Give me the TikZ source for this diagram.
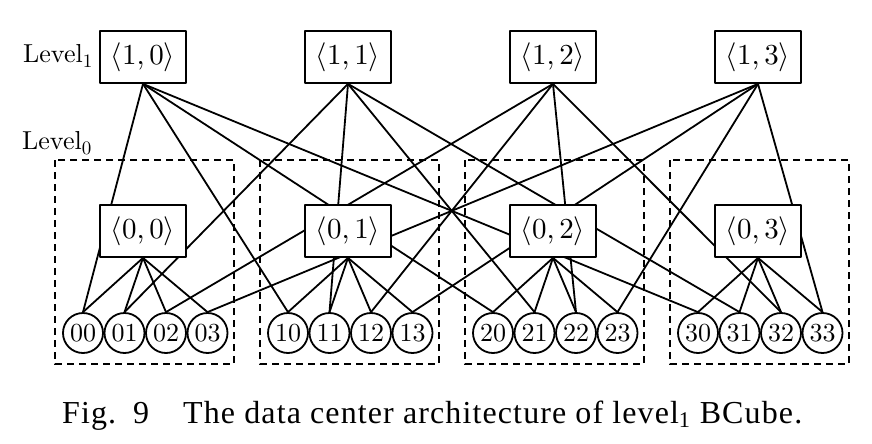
\RequirePackage{fix-cm}
\documentclass[tikz,border=0pt]{standalone}
\usepackage{fontspec}
\setmainfont{lmroman10-regular.otf}
\newfontfamily\capfont{Liberation Serif}[LetterSpace=3.5]
\newcommand{\lsub}[1]{\raisebox{-5pt}{\fontsize{19}{20}\selectfont #1}}
\usetikzlibrary{backgrounds}
\begin{document}
\begin{tikzpicture}[x=1pt, y=-1pt, line join=round, line cap=round]
	\tikzset{sw/.style={draw, line width=1.8pt, fill=white, minimum width=86pt, minimum height=52pt, inner sep=0pt, font=\fontsize{29}{31}\selectfont},
		srv/.style={draw, circle, line width=1.8pt, fill=white, minimum size=40pt, inner sep=0pt, font=\fontsize{26}{28}\selectfont},
		grp/.style={line width=1.8pt, dash pattern=on 7pt off 5pt, line cap=butt},
		lvl/.style={anchor=base west, inner sep=0pt, font=\fontsize{26}{28}\selectfont}}
	\def\dx{205}\def\sx{41.5}
	\useasboundingbox (0,0) rectangle (872,444);
	% switches and servers
	\foreach \j in {0,...,3}{
		\node[sw] (top\j) at ({143+\dx*\j},57) {$\langle$1,\,\j$\rangle$};
		\node[sw] (low\j) at ({143+\dx*\j},231) {$\langle$0,\,\j$\rangle$};
	}
	\foreach \i in {0,...,3}
		\foreach \j in {0,...,3}
			\node[srv] (srv\i\j) at ({83+\dx*\i+\sx*\j},333) {\i\j};
	\node[lvl] (lv1) at (23,63) {Level\lsub{1}};
	\node[lvl] (lv0) at (22,149) {Level\lsub{0}};
	% links behind the boxes
	\begin{scope}[on background layer]
		\foreach \i in {0,...,3}
			\draw[grp] ({55+\dx*\i},160) rectangle ({234+\dx*\i},364);
		\foreach \i in {0,...,3}
			\foreach \j in {0,...,3}{
				\draw[line width=1.8pt] (top\j.south) -- (srv\i\j.north);
				\draw[line width=1.8pt] (low\i.south) -- (srv\i\j.north);
			}
	\end{scope}
	\node[anchor=base west, inner sep=0pt, font=\capfont\fontsize{32}{34}\selectfont] (cap) at (62,423) {\makebox[71pt][l]{Fig.}\makebox[50pt][l]{9}The data center architecture of level\textsubscript{1} BCube.};
\end{tikzpicture}
\end{document}
